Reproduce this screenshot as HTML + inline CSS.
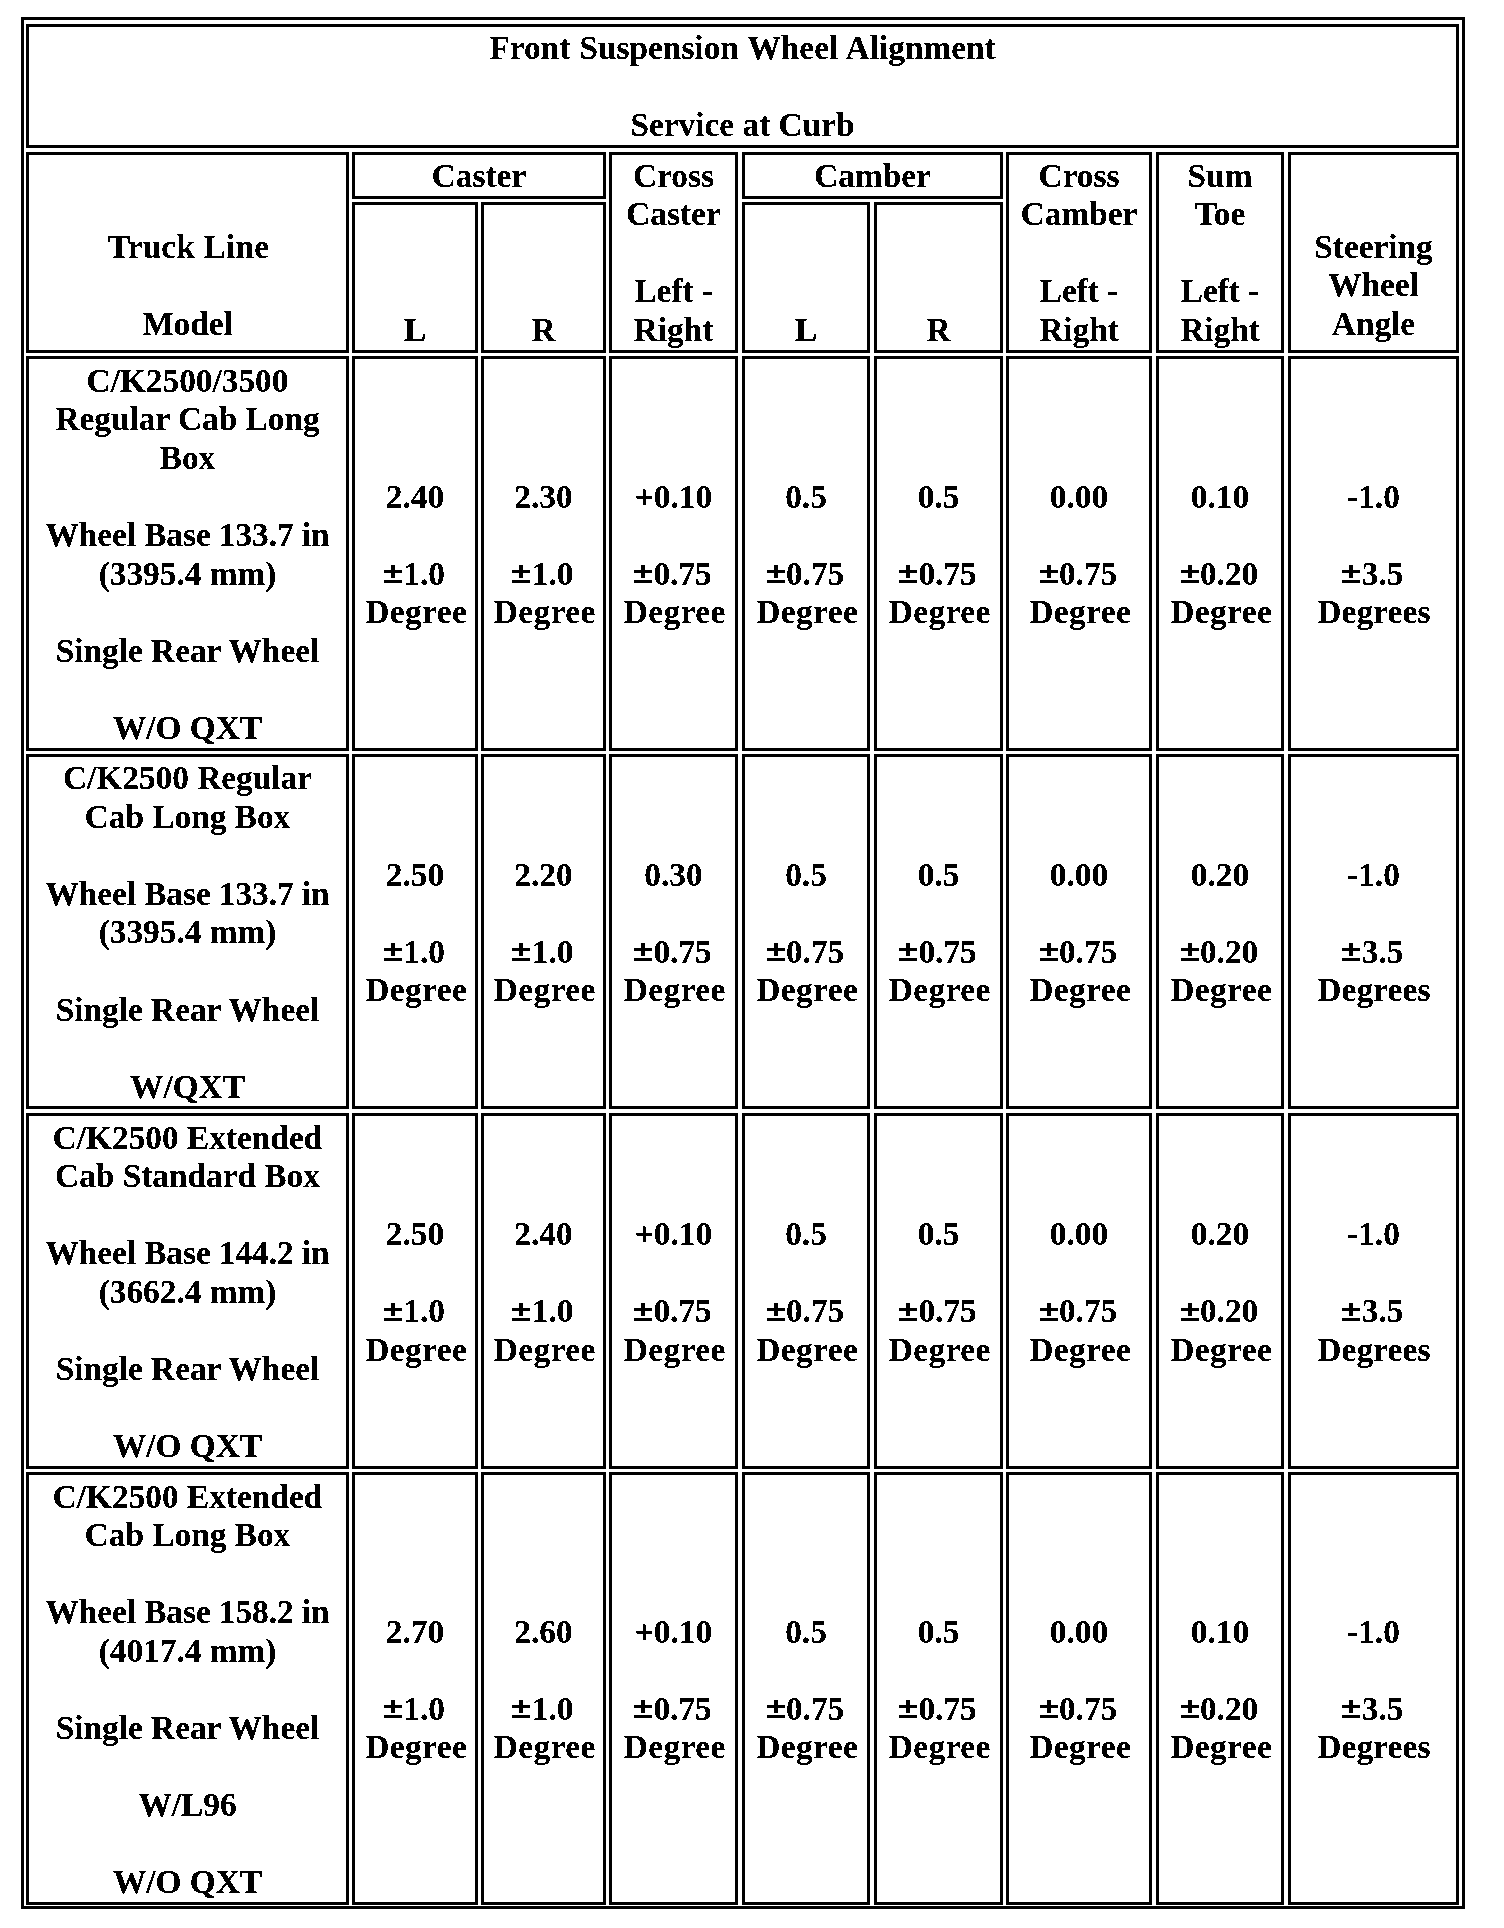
<!DOCTYPE html>
<html lang="en">
<head>
<meta charset="utf-8">
<title>Front Suspension Wheel Alignment - Service at Curb</title>
<style>
html,body{margin:0;padding:0;background:#fff;}
body{width:1504px;height:1928px;position:relative;overflow:hidden;
 font-family:"Liberation Serif","DejaVu Serif",serif;font-weight:bold;font-size:33.33px;line-height:38.56px;color:#000;}
.tbl{position:absolute;left:21px;top:17px;width:1444px;height:1892px;box-sizing:border-box;border:3px solid #000;}
.c{position:absolute;box-sizing:border-box;border:3px solid #000;display:flex;flex-direction:column;
 text-align:center;white-space:nowrap;padding:1.6px 0;}
.m{justify-content:center;}
.b{justify-content:flex-end;}
.c p{margin:0;position:relative;top:1.2px;filter:url(#bw);}
.pm{font-family:"Liberation Sans",sans-serif;line-height:0;font-size:30px;position:relative;top:-1.6px;margin:0 0.9px;display:inline-block;transform:scaleX(1.13);transform-origin:100% 50%;}
.tl{letter-spacing:0.19px;margin-left:1.9px;}
.ws1{word-spacing:0.93px;}
.ws2{word-spacing:-0.33px;}
.dg{letter-spacing:0.44px;margin-left:2.64px;}
.dgs{letter-spacing:0.13px;margin-left:0.9px;}
</style>
</head>
<body>
<svg width="0" height="0" style="position:absolute" aria-hidden="true"><filter id="bw" color-interpolation-filters="sRGB"><feComponentTransfer><feFuncA type="discrete" tableValues="0 0 1 1 1"/></feComponentTransfer></filter></svg>
<div class="tbl"></div>

<div class="c m" style="left:26px;top:24px;width:1433px;height:124px;"><p><span class="ws1">Front Suspension Wheel Alignment</span><br><br>Service at Curb</p></div>
<div class="c b" style="left:26px;top:152px;width:323px;height:201px;padding-bottom:8px;"><p><span class="tl">Truck Line</span><br><br>Model</p></div>
<div class="c m" style="left:352px;top:152px;width:254px;height:47px;"><p>Caster</p></div>
<div class="c b" style="left:352px;top:202px;width:126px;height:151px;"><p>L</p></div>
<div class="c b" style="left:481px;top:202px;width:125px;height:151px;"><p>R</p></div>
<div class="c b" style="left:609px;top:152px;width:129px;height:201px;"><p>Cross<br>Caster<br><br>Left -<br>Right</p></div>
<div class="c m" style="left:742px;top:152px;width:261px;height:47px;"><p>Camber</p></div>
<div class="c b" style="left:742px;top:202px;width:128px;height:151px;"><p>L</p></div>
<div class="c b" style="left:874px;top:202px;width:129px;height:151px;"><p>R</p></div>
<div class="c b" style="left:1006px;top:152px;width:146px;height:201px;"><p>Cross<br>Camber<br><br>Left -<br>Right</p></div>
<div class="c b" style="left:1156px;top:152px;width:128px;height:201px;"><p>Sum<br>Toe<br><br>Left -<br>Right</p></div>
<div class="c b" style="left:1288px;top:152px;width:171px;height:201px;padding-bottom:8px;"><p>Steering<br>Wheel<br>Angle</p></div>
<div class="c m" style="left:26px;top:356px;width:323px;height:395px;"><p>C/K2500/3500<br>Regular Cab Long<br>Box<br><br><span class="ws2">Wheel Base 133.7 in</span><br>(3395.4 mm)<br><br>Single Rear Wheel<br><br>W/O QXT</p></div>
<div class="c m" style="left:352px;top:356px;width:126px;height:395px;"><p>2.40<br><br><span class="pm">±</span>1.0<br><span class="dg">Degree</span></p></div>
<div class="c m" style="left:481px;top:356px;width:125px;height:395px;"><p>2.30<br><br><span class="pm">±</span>1.0<br><span class="dg">Degree</span></p></div>
<div class="c m" style="left:609px;top:356px;width:129px;height:395px;"><p>+0.10<br><br><span class="pm">±</span>0.75<br><span class="dg">Degree</span></p></div>
<div class="c m" style="left:742px;top:356px;width:128px;height:395px;"><p>0.5<br><br><span class="pm">±</span>0.75<br><span class="dg">Degree</span></p></div>
<div class="c m" style="left:874px;top:356px;width:129px;height:395px;"><p>0.5<br><br><span class="pm">±</span>0.75<br><span class="dg">Degree</span></p></div>
<div class="c m" style="left:1006px;top:356px;width:146px;height:395px;"><p>0.00<br><br><span class="pm">±</span>0.75<br><span class="dg">Degree</span></p></div>
<div class="c m" style="left:1156px;top:356px;width:128px;height:395px;"><p>0.10<br><br><span class="pm">±</span>0.20<br><span class="dg">Degree</span></p></div>
<div class="c m" style="left:1288px;top:356px;width:171px;height:395px;"><p>-1.0<br><br><span class="pm">±</span>3.5<br><span class="dgs">Degrees</span></p></div>
<div class="c m" style="left:26px;top:754px;width:323px;height:355px;"><p>C/K2500 Regular<br>Cab Long Box<br><br><span class="ws2">Wheel Base 133.7 in</span><br>(3395.4 mm)<br><br>Single Rear Wheel<br><br>W/QXT</p></div>
<div class="c m" style="left:352px;top:754px;width:126px;height:355px;"><p>2.50<br><br><span class="pm">±</span>1.0<br><span class="dg">Degree</span></p></div>
<div class="c m" style="left:481px;top:754px;width:125px;height:355px;"><p>2.20<br><br><span class="pm">±</span>1.0<br><span class="dg">Degree</span></p></div>
<div class="c m" style="left:609px;top:754px;width:129px;height:355px;"><p>0.30<br><br><span class="pm">±</span>0.75<br><span class="dg">Degree</span></p></div>
<div class="c m" style="left:742px;top:754px;width:128px;height:355px;"><p>0.5<br><br><span class="pm">±</span>0.75<br><span class="dg">Degree</span></p></div>
<div class="c m" style="left:874px;top:754px;width:129px;height:355px;"><p>0.5<br><br><span class="pm">±</span>0.75<br><span class="dg">Degree</span></p></div>
<div class="c m" style="left:1006px;top:754px;width:146px;height:355px;"><p>0.00<br><br><span class="pm">±</span>0.75<br><span class="dg">Degree</span></p></div>
<div class="c m" style="left:1156px;top:754px;width:128px;height:355px;"><p>0.20<br><br><span class="pm">±</span>0.20<br><span class="dg">Degree</span></p></div>
<div class="c m" style="left:1288px;top:754px;width:171px;height:355px;"><p>-1.0<br><br><span class="pm">±</span>3.5<br><span class="dgs">Degrees</span></p></div>
<div class="c m" style="left:26px;top:1113px;width:323px;height:356px;"><p>C/K2500 Extended<br>Cab Standard Box<br><br><span class="ws2">Wheel Base 144.2 in</span><br>(3662.4 mm)<br><br>Single Rear Wheel<br><br>W/O QXT</p></div>
<div class="c m" style="left:352px;top:1113px;width:126px;height:356px;"><p>2.50<br><br><span class="pm">±</span>1.0<br><span class="dg">Degree</span></p></div>
<div class="c m" style="left:481px;top:1113px;width:125px;height:356px;"><p>2.40<br><br><span class="pm">±</span>1.0<br><span class="dg">Degree</span></p></div>
<div class="c m" style="left:609px;top:1113px;width:129px;height:356px;"><p>+0.10<br><br><span class="pm">±</span>0.75<br><span class="dg">Degree</span></p></div>
<div class="c m" style="left:742px;top:1113px;width:128px;height:356px;"><p>0.5<br><br><span class="pm">±</span>0.75<br><span class="dg">Degree</span></p></div>
<div class="c m" style="left:874px;top:1113px;width:129px;height:356px;"><p>0.5<br><br><span class="pm">±</span>0.75<br><span class="dg">Degree</span></p></div>
<div class="c m" style="left:1006px;top:1113px;width:146px;height:356px;"><p>0.00<br><br><span class="pm">±</span>0.75<br><span class="dg">Degree</span></p></div>
<div class="c m" style="left:1156px;top:1113px;width:128px;height:356px;"><p>0.20<br><br><span class="pm">±</span>0.20<br><span class="dg">Degree</span></p></div>
<div class="c m" style="left:1288px;top:1113px;width:171px;height:356px;"><p>-1.0<br><br><span class="pm">±</span>3.5<br><span class="dgs">Degrees</span></p></div>
<div class="c m" style="left:26px;top:1472px;width:323px;height:433px;"><p>C/K2500 Extended<br>Cab Long Box<br><br><span class="ws2">Wheel Base 158.2 in</span><br>(4017.4 mm)<br><br>Single Rear Wheel<br><br>W/L96<br><br>W/O QXT</p></div>
<div class="c m" style="left:352px;top:1472px;width:126px;height:433px;"><p>2.70<br><br><span class="pm">±</span>1.0<br><span class="dg">Degree</span></p></div>
<div class="c m" style="left:481px;top:1472px;width:125px;height:433px;"><p>2.60<br><br><span class="pm">±</span>1.0<br><span class="dg">Degree</span></p></div>
<div class="c m" style="left:609px;top:1472px;width:129px;height:433px;"><p>+0.10<br><br><span class="pm">±</span>0.75<br><span class="dg">Degree</span></p></div>
<div class="c m" style="left:742px;top:1472px;width:128px;height:433px;"><p>0.5<br><br><span class="pm">±</span>0.75<br><span class="dg">Degree</span></p></div>
<div class="c m" style="left:874px;top:1472px;width:129px;height:433px;"><p>0.5<br><br><span class="pm">±</span>0.75<br><span class="dg">Degree</span></p></div>
<div class="c m" style="left:1006px;top:1472px;width:146px;height:433px;"><p>0.00<br><br><span class="pm">±</span>0.75<br><span class="dg">Degree</span></p></div>
<div class="c m" style="left:1156px;top:1472px;width:128px;height:433px;"><p>0.10<br><br><span class="pm">±</span>0.20<br><span class="dg">Degree</span></p></div>
<div class="c m" style="left:1288px;top:1472px;width:171px;height:433px;"><p>-1.0<br><br><span class="pm">±</span>3.5<br><span class="dgs">Degrees</span></p></div>
</body>
</html>
